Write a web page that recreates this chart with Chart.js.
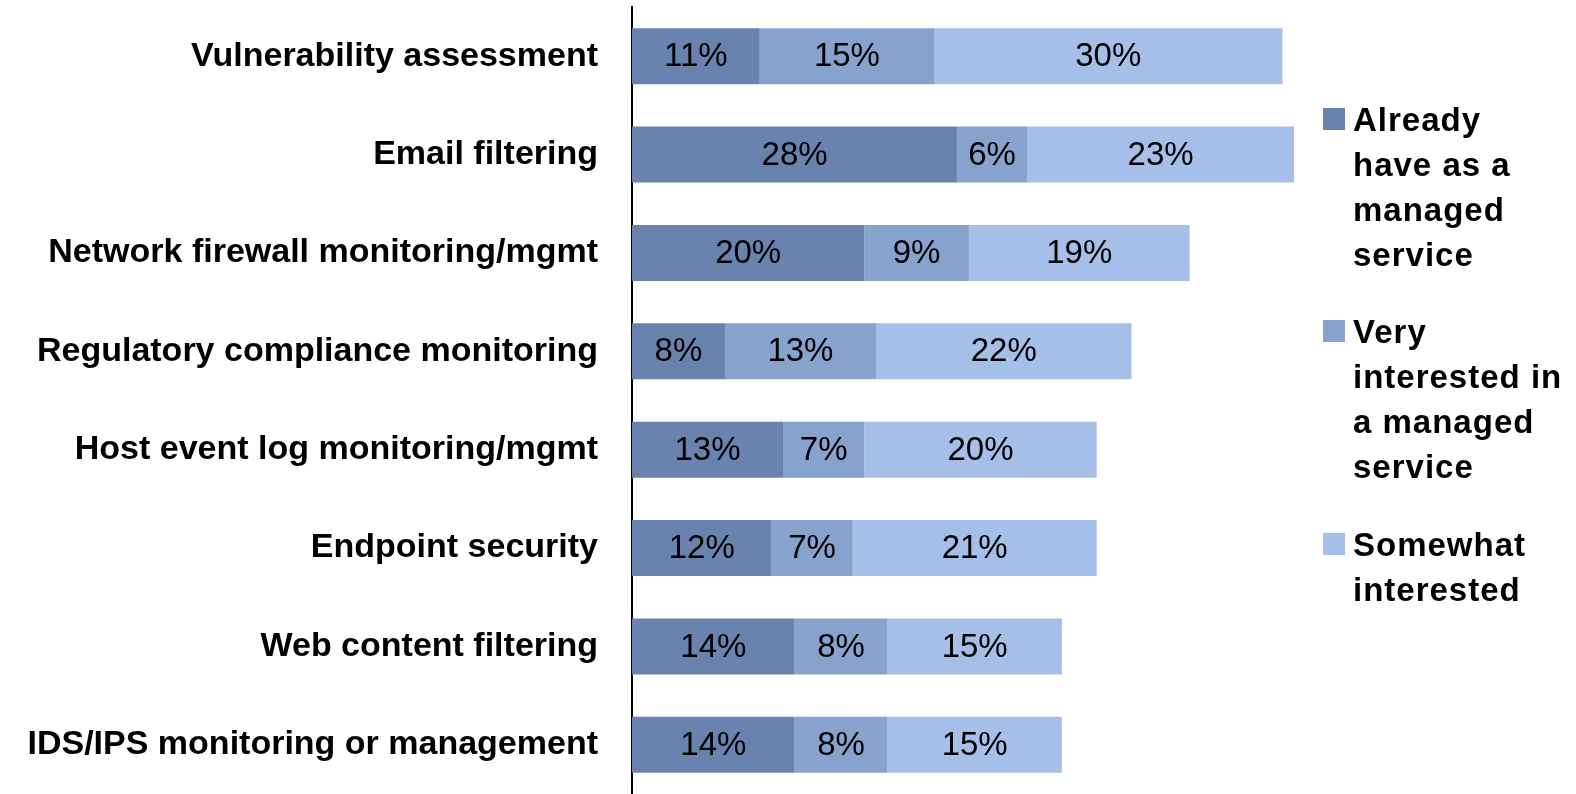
<!DOCTYPE html>
<html>
<head>
<meta charset="utf-8">
<script src="https://cdn.jsdelivr.net/npm/chart.js@4/dist/chart.umd.min.js"></script>
<style>
  html, body { margin: 0; padding: 0; background: #fff; }
  #wrap { position: relative; width: 1576px; height: 794px; }
  #chart { position: absolute; left: 0; top: 0; }
  .lg { position: absolute; left: 1323px; font: bold 33px "Liberation Sans", Arial, sans-serif; line-height: 45px; color: #000; letter-spacing: 1px; }
  .lg i { position: absolute; left: 0; top: 11px; width: 22px; height: 22px; }
  .lg span { display: block; margin-left: 30px; white-space: nowrap; }
</style>
</head>
<body>
<div id="wrap">
  <canvas id="chart" width="1576" height="794"></canvas>
  <div class="lg" id="lg0" style="top:97px"><i></i><span></span></div>
  <div class="lg" id="lg1" style="top:309px"><i></i><span></span></div>
  <div class="lg" id="lg2" style="top:522px"><i></i><span></span></div>
</div>
<script>
const categories = [
  "Vulnerability assessment",
  "Email filtering",
  "Network firewall monitoring/mgmt",
  "Regulatory compliance monitoring",
  "Host event log monitoring/mgmt",
  "Endpoint security",
  "Web content filtering",
  "IDS/IPS monitoring or management",
];
const alreadyHave = [11, 28, 20, 8, 13, 12, 14, 14];
const veryInterested = [15, 6, 9, 13, 7, 7, 8, 8];
const somewhatInterested = [30, 23, 19, 22, 20, 21, 15, 15];

const seriesNames = [
  ["Already", "have as a", "managed", "service"],
  ["Very", "interested in", "a managed", "service"],
  ["Somewhat", "interested"],
];
const colors = ["#6983ae", "#87a2cc", "#a5bfe8"];

const FONT = "'Liberation Sans', Arial, sans-serif";

// HTML legend with the same wrapped lines as the original
seriesNames.forEach((lines, i) => {
  const el = document.getElementById("lg" + i);
  el.querySelector("i").style.background = colors[i];
  el.querySelector("span").innerHTML = lines.join("<br>");
});

// values written in the middle of each segment
const segmentLabels = {
  id: "segmentLabels",
  afterDatasetsDraw(chart) {
    const ctx = chart.ctx;
    ctx.save();
    ctx.font = "33px " + FONT;
    ctx.fillStyle = "#000";
    ctx.textAlign = "center";
    ctx.textBaseline = "middle";
    chart.data.datasets.forEach((ds, di) => {
      chart.getDatasetMeta(di).data.forEach((bar, i) => {
        const v = ds.data[i];
        const cx = (bar.x + bar.base) / 2;
        ctx.fillText(v + "%", cx, bar.y + 1);
      });
    });
    ctx.restore();
  },
};

new Chart(document.getElementById("chart"), {
  type: "bar",
  data: {
    labels: categories,
    datasets: [
      { label: seriesNames[0].join(" "), data: alreadyHave, backgroundColor: colors[0] },
      { label: seriesNames[1].join(" "), data: veryInterested, backgroundColor: colors[1] },
      { label: seriesNames[2].join(" "), data: somewhatInterested, backgroundColor: colors[2] },
    ],
  },
  options: {
    indexAxis: "y",
    responsive: false,
    animation: false,
    categoryPercentage: 1,
    barPercentage: 0.57,
    layout: { padding: { top: 7, right: 247, bottom: 0, left: 0 } },
    plugins: {
      legend: { display: false },
      tooltip: { enabled: false },
    },
    scales: {
      x: { stacked: true, display: false, min: 0, max: 60 },
      y: {
        stacked: true,
        // fixed width so the bars start where they do in the original,
        // and no extra room above/below for the label heights
        afterFit: (scale) => {
          scale.width = 632;
          scale.paddingTop = 0;
          scale.paddingBottom = 0;
        },
        grid: { display: false, drawTicks: false },
        border: { display: true, color: "#000", width: 2 },
        ticks: {
          color: "#000",
          padding: 34,
          font: { family: FONT, size: 34, weight: "bold" },
        },
      },
    },
  },
  plugins: [segmentLabels],
});
</script>
</body>
</html>
